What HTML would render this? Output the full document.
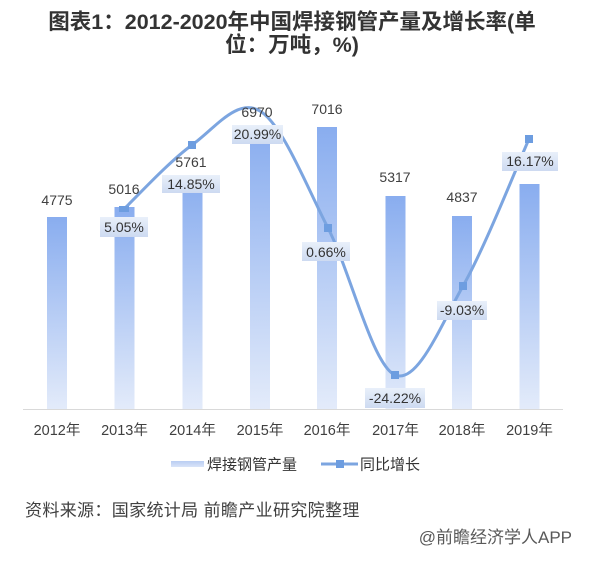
<!DOCTYPE html>
<html>
<head>
<meta charset="utf-8">
<style>
  html,body{margin:0;padding:0;background:#fff;}
  body{width:600px;height:562px;overflow:hidden;}
  svg{display:block;font-family:"Liberation Sans","Noto Sans CJK SC",sans-serif;}
</style>
</head>
<body>
<svg width="600" height="562" viewBox="0 0 600 562" xmlns="http://www.w3.org/2000/svg">
  <defs>
    <linearGradient id="barG" x1="0" y1="0" x2="0" y2="1">
      <stop offset="0" stop-color="#89adef"/>
      <stop offset="1" stop-color="#e3ebfa"/>
    </linearGradient>
    <linearGradient id="lblG" x1="0" y1="0" x2="0" y2="1">
      <stop offset="0" stop-color="#e9f0fa"/>
      <stop offset="1" stop-color="#cddaf1"/>
    </linearGradient>
    <linearGradient id="legG" x1="0" y1="0" x2="0" y2="1">
      <stop offset="0" stop-color="#b9cdf2"/>
      <stop offset="1" stop-color="#d9e4f8"/>
    </linearGradient>
  </defs>

  <!-- Title -->
  <g fill="#333" font-weight="bold" font-size="21.5" text-anchor="middle">
    <text x="292" y="29">图表1：2012-2020年中国焊接钢管产量及增长率(单</text>
    <text x="292" y="52">位：万吨，%)</text>
  </g>

  <!-- Bars -->
  <g fill="url(#barG)">
    <rect x="47" y="217" width="20" height="192"/>
    <rect x="114.5" y="207" width="20" height="202"/>
    <rect x="182.5" y="177" width="20" height="232"/>
    <rect x="250" y="129" width="20" height="280"/>
    <rect x="317" y="127" width="20" height="282"/>
    <rect x="385.5" y="196" width="20" height="213"/>
    <rect x="452" y="216" width="20" height="193"/>
    <rect x="519.5" y="184" width="20" height="225"/>
  </g>

  <!-- Axis -->
  <line x1="23" y1="409.5" x2="563" y2="409.5" stroke="#d9d9d9" stroke-width="1"/>

  <!-- X labels -->
  <g fill="#404040" font-size="14.5" text-anchor="middle">
    <text x="57" y="435">2012年</text>
    <text x="124.5" y="435">2013年</text>
    <text x="192.5" y="435">2014年</text>
    <text x="260" y="435">2015年</text>
    <text x="327" y="435">2016年</text>
    <text x="395.5" y="435">2017年</text>
    <text x="462" y="435">2018年</text>
    <text x="529.5" y="435">2019年</text>
  </g>

  <!-- Growth line -->
  <path d="M124,209 C135.3,198.3 169.3,161.3 192,145 C214.7,128.7 237.3,97.2 260,111 C282.7,124.8 305.5,184 328,228 C350.5,272 372.5,365.3 395,375 C417.5,384.7 440.7,325.3 463,286 C485.3,246.7 518,163.5 529,139"
        fill="none" stroke="#7ca5e0" stroke-width="3" stroke-linejoin="round" stroke-linecap="round"/>
  <g fill="#6d9de0">
    <rect x="119" y="206" width="10" height="6"/>
    <rect x="188" y="141" width="8" height="8"/>
    <rect x="324" y="224" width="8" height="8"/>
    <rect x="391" y="371" width="8" height="8"/>
    <rect x="459" y="282" width="8" height="8"/>
    <rect x="525" y="135" width="8" height="8"/>
  </g>

  <!-- Value labels -->
  <g fill="#404040" font-size="14" text-anchor="middle">
    <text x="57" y="205">4775</text>
    <text x="124" y="194">5016</text>
    <text x="191" y="167">5761</text>
    <text x="257" y="117">6970</text>
    <text x="327" y="114">7016</text>
    <text x="395" y="182">5317</text>
    <text x="462" y="202">4837</text>
  </g>

  <!-- Percentage label boxes -->
  <g fill="url(#lblG)">
    <rect x="100" y="217" width="48" height="20"/>
    <rect x="162" y="175" width="58" height="18"/>
    <rect x="232" y="125" width="51" height="19"/>
    <rect x="302" y="242" width="48" height="19"/>
    <rect x="365" y="388" width="60" height="20"/>
    <rect x="437" y="301" width="50" height="19"/>
    <rect x="502" y="152" width="56" height="19"/>
  </g>
  <g fill="#333" font-size="14" text-anchor="middle">
    <text x="124" y="232">5.05%</text>
    <text x="191" y="189">14.85%</text>
    <text x="257.5" y="139">20.99%</text>
    <text x="326" y="257">0.66%</text>
    <text x="395" y="403">-24.22%</text>
    <text x="462" y="315">-9.03%</text>
    <text x="530" y="166">16.17%</text>
  </g>

  <!-- Legend -->
  <rect x="171" y="461" width="33" height="6" fill="url(#legG)"/>
  <text x="207" y="469.5" font-size="15" fill="#333">焊接钢管产量</text>
  <line x1="321" y1="464" x2="358" y2="464" stroke="#7ca5e0" stroke-width="3"/>
  <rect x="336" y="460" width="8" height="8" fill="#6d9de0"/>
  <text x="360" y="469.5" font-size="15" fill="#333">同比增长</text>

  <!-- Source -->
  <text x="25" y="516" font-size="17" fill="#404040" letter-spacing="0.35">资料来源：国家统计局 前瞻产业研究院整理</text>
  <text x="572" y="543" font-size="17" fill="#595959" text-anchor="end">@前瞻经济学人APP</text>
</svg>
</body>
</html>
